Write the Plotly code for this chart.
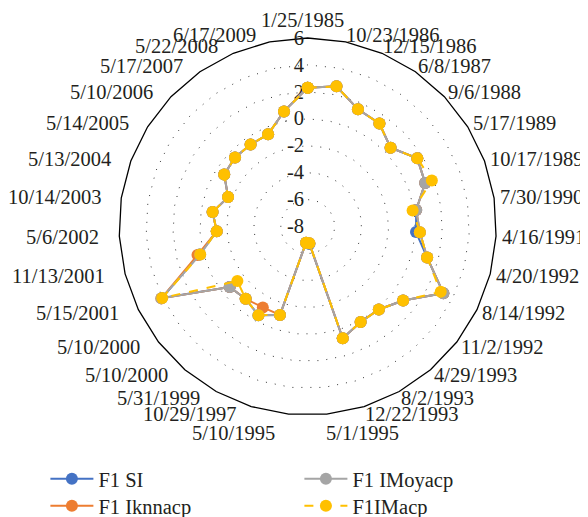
import math
import plotly.graph_objects as go

categories = ["1/25/1985", "10/23/1986", "12/15/1986", "6/8/1987", "9/6/1988",
              "5/17/1989", "10/17/1989", "7/30/1990", "4/16/1991", "4/20/1992",
              "8/14/1992", "11/2/1992", "4/29/1993", "8/2/1993", "12/22/1993",
              "5/1/1995", "5/10/1995", "10/29/1997", "5/31/1999", "5/10/2000",
              "5/10/2000\u200b", "5/15/2001", "11/13/2001", "5/6/2002", "10/14/2003",
              "5/13/2004", "5/14/2005", "5/10/2006", "5/17/2007", "5/22/2008",
              "6/17/2009"]

f1_si = [2.3, 2.63, 1.47, 1.32, 0.49, 1.59, 1.3, 0.15, 0.05, 1.16,
         3.22, 0.96, 0.11, 0.1, 0.69, -6.7, -6.8, -1.13, -0.47, -0.93,
         -0.68, 4.05, 0.3, -1.24, -0.86, -1.7, -0.7, -0.56, -0.58, -0.55, 0.73]
f1_iknnacp = [2.3, 2.63, 1.47, 1.32, 0.49, 1.59, 1.3, 0.15, 0.34, 1.16,
              3.22, 0.96, 0.11, 0.1, 0.69, -6.75, -6.8, -1.13, -1.14, -0.93,
              -0.68, 4.1, 0.45, -1.24, -0.86, -1.7, -0.7, -0.56, -0.58, -0.55, 0.73]
f1_imoyacp = [2.3, 2.63, 1.47, 1.32, 0.49, 1.59, 1.3, 0.15, 0.34, 1.16,
              3.22, 0.96, 0.11, 0.1, 0.69, -6.75, -6.8, -1.13, -0.47, -0.93,
              -0.68, 4.1, 0.24, -1.24, -0.86, -1.7, -0.7, -0.56, -0.58, -0.55, 0.73]
f1_imacp = [2.3, 2.63, 1.47, 1.32, 0.49, 1.59, 1.83, -0.12, 0.34, 1.16,
            3.0, 0.96, 0.11, 0.1, 0.69, -6.75, -6.8, -1.13, -0.47, -0.93,
            -1.4, 4.03, 0.24, -1.24, -0.86, -1.7, -0.7, -0.56, -0.58, -0.55, 0.73]

radial_ticks = [-8, -6, -4, -2, 0, 2, 4, 6]
radial_labels = ["-8", "-6", "-4", "-2", "0", "2", "4", "6"]

series = [
    ("F1 SI", f1_si, "#4472C4", "solid", "legend"),
    ("F1 Iknnacp", f1_iknnacp, "#ED7D31", "solid", "legend2"),
    ("F1 IMoyacp", f1_imoyacp, "#A5A5A5", "solid", "legend"),
    ("F1IMacp", f1_imacp, "#FFC000", "dash", "legend2"),
]

W, H = 588, 517
FONT = "Liberation Serif"
TXT = "#231F20"
DOMAIN = dict(x=[0.1889, 0.8304], y=[0.2124, 0.9420])

fig = go.Figure()
# frame subplot (polygon grid)
fig.add_trace(go.Scatterpolar(
    r=f1_si, theta=categories, mode="lines", subplot="polar",
    line=dict(color="rgba(0,0,0,0)", width=0), showlegend=False, hoverinfo="skip",
))
# data drawn on an overlaid subplot with identical scales
for name, vals, color, dash, leg in series:
    fig.add_trace(go.Scatterpolar(
        r=vals + vals[:1],
        theta=categories + categories[:1],
        mode="lines+markers",
        name=name,
        subplot="polar2",
        legend=leg,
        line=dict(color=color, width=2, dash=dash),
        marker=dict(color=color, size=12),
    ))

# category labels around the polygon, placed Excel-style
cx = (DOMAIN["x"][0] + DOMAIN["x"][1]) / 2 * W
cy = (1 - (DOMAIN["y"][0] + DOMAIN["y"][1]) / 2) * H
label_r = 196
n = len(categories)
annotations = []
for i, cat in enumerate(categories):
    th = 2 * math.pi * i / n
    s, c = math.sin(th), math.cos(th)
    x = cx + label_r * s
    y = cy - label_r * c
    if abs(s) < 0.11:
        y -= 11 if c > 0 else -11
    if i == 0:
        xa = "center"
        x -= 5
    elif s > 0:
        xa = "left"
        x -= 3.5
    else:
        xa = "right"
        x -= 10.5
    annotations.append(dict(
        text=cat.replace("\u200b", ""), x=x / W, y=1 - y / H,
        xref="paper", yref="paper", xanchor=xa, yanchor="middle",
        showarrow=False, font=dict(family=FONT, size=20.5, color=TXT),
    ))

common_ang = dict(type="category", rotation=90, direction="clockwise",
                  categoryorder="array", categoryarray=categories)

legend_style = dict(
    orientation="h", x=0.0636, xanchor="left", yanchor="top",
    entrywidth=196, itemwidth=43,
    font=dict(family=FONT, size=20.5, color=TXT),
    bgcolor="rgba(0,0,0,0)",
)

fig.update_layout(
    width=W, height=H,
    paper_bgcolor="white",
    plot_bgcolor="white",
    margin=dict(l=0, r=0, t=0, b=0, autoexpand=False),
    font=dict(family=FONT, size=20, color=TXT),
    annotations=annotations,
    polar=dict(
        domain=DOMAIN,
        bgcolor="white",
        gridshape="linear",
        angularaxis=dict(
            **common_ang,
            showticklabels=False,
            showgrid=False,
            showline=True,
            linecolor="#000000",
            linewidth=1.3,
            ticks="",
        ),
        radialaxis=dict(
            range=[-8, 6],
            tickvals=radial_ticks,
            ticktext=radial_labels,
            angle=90,
            tickangle=90,
            side="counterclockwise",
            showline=False,
            showgrid=True,
            gridcolor="#333333",
            gridwidth=1,
            griddash="1px,8px",
            ticks="",
            tickfont=dict(family=FONT, size=20.5, color=TXT),
        ),
    ),
    polar2=dict(
        domain=DOMAIN,
        bgcolor="rgba(0,0,0,0)",
        gridshape="circular",
        angularaxis=dict(**common_ang, visible=False),
        radialaxis=dict(range=[-8, 6], visible=False),
    ),
    legend=dict(legend_style, y=0.1277),
    legend2=dict(legend_style, y=0.0754),
)

fig.write_html("out.html")
